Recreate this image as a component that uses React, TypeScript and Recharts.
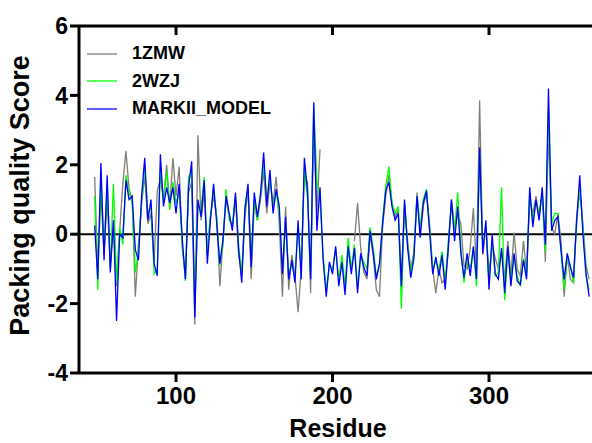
import React from "react";
import {
  LineChart,
  Line,
  XAxis,
  YAxis,
  ReferenceLine,
  Legend,
} from "recharts";

// residue numbers, every second residue from 48 to 364
const residues = Array.from({ length: 159 }, (_, i) => 48 + i * 2);

const zmw1 = [
  1.65, -1.0, 1.2, -0.6, 1.0, -0.9, 0.3, -1.5, 0.1, 1.45,
  2.4, 1.3, 1.0, -1.8, -0.3, 0.85, 1.7, 0.3, 0.6, -0.8,
  1.25, 1.6, 1.0, 2.0, 0.8, 2.2, 1.1, 1.95, -0.4, -1.2,
  1.2, 1.5, -2.6, 2.85, 0.4, 1.2, -0.5, 0.55, 1.1, 0.5,
  -1.5, -0.2, 1.0, 0.5, 0.2, 1.0, -0.6, -1.1, 0.5, 1.3,
  -1.3, 0.9, 0.4, 1.0, 1.8, 0.6, 1.5, 0.9, 1.65, 0.3,
  -1.8, 0.8, -1.6, -0.6, -1.2, -2.25, -1.0, 1.7, 1.5, -1.7,
  3.2, 0.6, 2.45, null, null, null, null, null, null, null,
  null, null, null, -0.2, 0.9, -0.4, -1.1, -1.3, 0.0, -0.6,
  -1.6, -1.8, 0.2, 1.1, 1.7, 0.9, 0.5, 0.7, -1.3, 0.8,
  -0.2, -1.0, -0.5, 1.2, 0.0, 0.8, 1.2, 0.3, -1.0, -1.7,
  -1.0, -1.4, -1.3, -0.5, 1.0, 0.2, 0.6, 0.3, -0.9, -1.0,
  -0.4, 0.75, -1.0, 3.85, -0.6, 0.2, -1.1, -0.3, -0.7, -1.0,
  -0.5, -1.3, -0.2, -1.2, 0.05, -1.0, -1.2, -0.2, -1.1, 1.0,
  0.6, 1.1, 0.5, 1.2, -0.8, 3.0, 0.2, 0.0, 0.6, -0.2,
  -1.8, -0.6, -1.3, -1.4, 0.5, 1.2, 0.3, -0.9, -1.3,
];

const wzj2 = [
  1.1, -1.6, 1.7, -0.5, 1.45, -1.0, 1.45, -1.4, 0.2, -0.3,
  1.7, 1.2, 0.9, -1.1, -0.5, 1.0, 1.9, 0.6, 0.8, -1.15,
  -1.0, 1.9, 1.0, 1.8, 0.7, 1.5, 0.9, 1.2, -0.3, -1.35,
  1.65, 1.8, -1.9, 0.8, 0.7, 1.65, -0.6, 0.5, 1.3, 0.5,
  -0.9, -0.3, 1.3, 0.4, 0.3, 1.1, -0.3, -1.2, 0.8, 1.3,
  -0.7, 1.0, 0.4, 1.2, 2.0, 1.0, 1.6, 0.8, 1.2, 0.6,
  -1.0, 0.3, -1.1, -0.9, -1.2, 0.2, -1.0, 1.9, 1.0, -1.1,
  3.7, 1.55, 1.0, -0.6, -1.6, -0.9, -1.0, -0.4, -1.3, -0.6,
  -1.5, -0.1, -1.0, -0.3, -1.5, -0.6, -0.8, -1.0, 0.2, -0.4,
  -1.2, -0.9, 0.4, 1.4, 1.95, 0.9, 0.6, 0.8, -2.15, 0.9,
  -0.3, -1.1, -0.6, 1.1, 0.2, 1.0, 1.3, 0.2, -1.0, -0.8,
  -1.0, -0.5, -1.4, -0.2, 0.9, 0.1, 1.2, -0.4, -1.4, -0.7,
  -1.0, -0.4, -1.5, 2.3, -0.4, 0.2, -1.4, -0.2, -1.2, -1.1,
  1.35, -1.9, -0.5, -1.4, -0.6, -1.2, -1.5, -0.7, -1.2, 1.2,
  0.4, 0.9, 0.6, 1.2, -0.5, 3.6, 0.3, 0.6, 0.6, -0.5,
  -1.6, -0.7, -0.9, -1.4, 0.3, 1.4, 0.2, -1.2, -1.6,
];

const markii = [
  0.25, -1.3, 2.05, -0.75, 1.7, -1.1, 0.4, -2.5, 0.0, -0.1,
  1.55, 1.0, 1.1, -0.45, -0.75, 1.1, 2.2, 0.4, 1.0, -0.85,
  -1.2, 2.3, 0.8, 1.35, 0.9, 1.35, 0.6, 1.45, -0.15, -1.3,
  1.35, 2.1, -2.4, 1.0, 0.5, 1.55, -0.85, 0.4, 1.45, 0.3,
  -0.85, -0.15, 1.1, 0.6, 0.1, 1.2, -0.45, -1.4, 0.7, 1.45,
  -0.95, 1.2, 0.5, 1.15, 2.35, 0.8, 1.85, 0.6, 1.3, 0.8,
  -1.15, 0.5, -1.3, -0.75, -1.4, 0.4, -1.3, 2.2, 1.25, -1.3,
  3.8, 0.1, 1.35, -0.75, -1.8, -0.8, -1.15, -0.35, -1.5, -0.8,
  -1.75, -0.35, -1.15, -0.4, -1.7, -0.55, -0.95, -1.2, 0.1, -0.55,
  -1.3, -0.85, 0.3, 1.25, 1.5, 0.8, 0.4, 0.6, -1.5, 1.0,
  -0.4, -1.25, -0.7, 1.1, -0.1, 0.9, 1.25, 0.1, -1.15, -0.65,
  -1.2, -0.6, -1.6, -0.35, 1.0, -0.2, 0.8, -0.55, -1.25, -0.55,
  -1.2, -0.35, -1.3, 2.5, -0.55, 0.4, -1.6, 0.0, -1.15, -1.3,
  -0.4, -1.7, -0.35, -1.5, -0.55, -1.35, -1.45, -0.75, -1.3, 1.35,
  0.2, 1.0, 0.4, 1.35, -0.3, 4.2, 0.1, 0.4, 0.5, -0.45,
  -1.3, -0.55, -0.95, -1.25, 0.4, 1.7, 0.0, -1.15, -1.8,
];

const xTicks = [100, 200, 300];
const yTicks = [-4, -2, 0, 2, 4, 6];

const series = [
  { key: "zmw1", name: "1ZMW", color: "#7f7f74" },
  { key: "wzj2", name: "2WZJ", color: "#00ff00" },
  { key: "markii", name: "MARKII_MODEL", color: "#0000ff" },
];

const data = residues.map((r, i) => ({
  residue: r,
  zmw1: zmw1[i],
  wzj2: wzj2[i],
  markii: markii[i],
}));

const font = "'Liberation Sans', Arial, sans-serif";

const renderLegend = () => (
  <div style={{ fontFamily: font }}>
    {series.map((s) => (
      <div
        key={s.key}
        style={{ display: "flex", alignItems: "center", height: 27.5 }}
      >
        <svg width={30} height={4} style={{ marginRight: 15 }}>
          <line x1={0} y1={2} x2={30} y2={2} stroke={s.color} strokeWidth={1.3} />
        </svg>
        <span style={{ fontSize: 18, fontWeight: "bold", color: "#000" }}>
          {s.name}
        </span>
      </div>
    ))}
  </div>
);

const YLabel = (props: any) => {
  const { viewBox } = props;
  const cx = 29;
  const cy = viewBox.y + viewBox.height / 2 - 4;
  return (
    <text
      x={cx}
      y={cy}
      transform={`rotate(-90 ${cx} ${cy})`}
      textAnchor="middle"
      style={{ fontFamily: font, fontSize: 27, fontWeight: "bold", fill: "#000" }}
    >
      Packing quality Score
    </text>
  );
};

export default function App() {
  return (
    <div
      style={{
        position: "fixed",
        left: 0,
        top: 0,
        width: 592,
        height: 443,
        overflow: "hidden",
        background: "#fff",
      }}
    >
      <LineChart
        width={600}
        height={443}
        data={data}
        margin={{ top: 26, right: 3, bottom: 0, left: 0 }}
      >
        <XAxis
          dataKey="residue"
          type="number"
          domain={[38, 369]}
          ticks={xTicks}
          height={70}
          tickSize={9}
          tickMargin={5}
          axisLine={{ stroke: "#000", strokeWidth: 3 }}
          tickLine={{ stroke: "#000", strokeWidth: 3 }}
          tick={{ fill: "#000", fontSize: 24, fontWeight: "bold", fontFamily: font }}
          label={{
            value: "Residue",
            position: "insideBottom",
            offset: 6,
            style: { fontFamily: font, fontSize: 25, fontWeight: "bold", fill: "#000" },
          }}
        />
        <XAxis
          xAxisId="top"
          dataKey="residue"
          type="number"
          orientation="top"
          mirror
          domain={[38, 369]}
          ticks={xTicks}
          tickSize={9}
          tickFormatter={() => ""}
          axisLine={{ stroke: "#000", strokeWidth: 3 }}
          tickLine={{ stroke: "#000", strokeWidth: 3 }}
        />
        <YAxis
          type="number"
          domain={[-4, 6]}
          ticks={yTicks}
          width={79}
          tickSize={9}
          tickMargin={2}
          axisLine={{ stroke: "#000", strokeWidth: 3 }}
          tickLine={{ stroke: "#000", strokeWidth: 3 }}
          tick={{ fill: "#000", fontSize: 23, fontWeight: "bold", fontFamily: font }}
          label={{ content: YLabel }}
        />
        <YAxis
          yAxisId="right"
          orientation="right"
          mirror
          type="number"
          domain={[-4, 6]}
          ticks={yTicks}
          tickSize={9}
          tickFormatter={() => ""}
          axisLine={{ stroke: "#000", strokeWidth: 3 }}
          tickLine={{ stroke: "#000", strokeWidth: 3 }}
        />
        <ReferenceLine y={0} stroke="#000" strokeWidth={2} />
        <Legend
          layout="vertical"
          align="center"
          verticalAlign="middle"
          content={renderLegend}
          wrapperStyle={{ position: "absolute", left: 87, top: 40, width: 260 }}
        />
        {series.map((s) => (
          <Line
            key={s.key}
            type="linear"
            dataKey={s.key}
            name={s.name}
            stroke={s.color}
            strokeWidth={1.3}
            dot={false}
            activeDot={false}
            isAnimationActive={false}
          />
        ))}
      </LineChart>
    </div>
  );
}
